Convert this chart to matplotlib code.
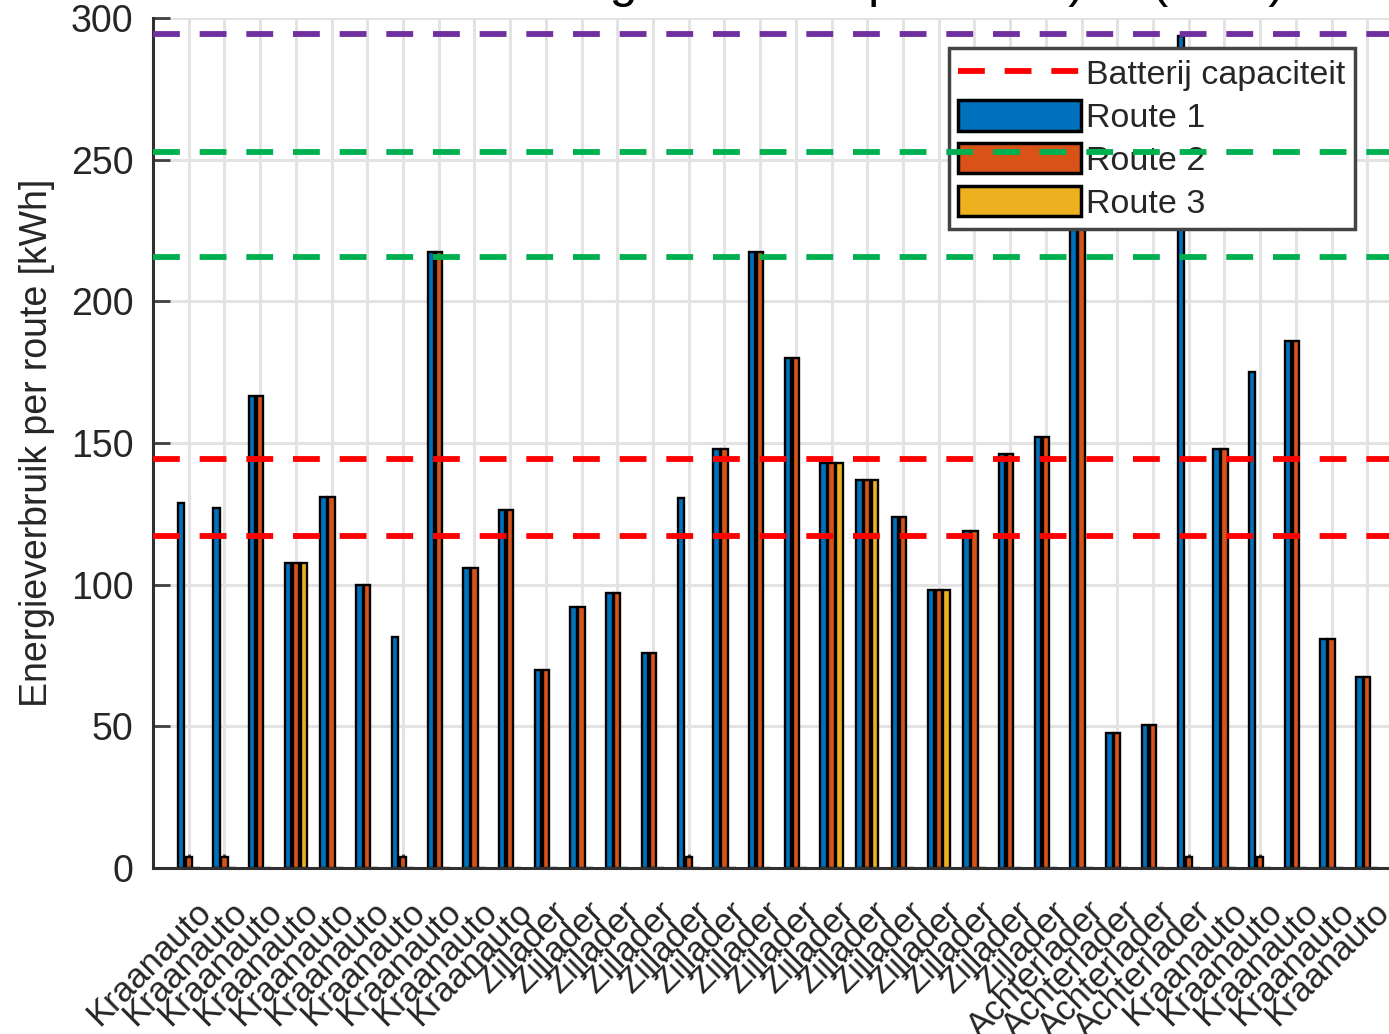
import matplotlib
matplotlib.use('Agg')
import matplotlib.pyplot as plt
import numpy as np
from matplotlib.transforms import ScaledTranslation
from matplotlib.patches import Patch
from matplotlib.lines import Line2D

# ---------------- data ----------------
categories = (['Kraanauto'] * 10 + ['Zijlader'] * 15 +
              ['Achterlader'] * 4 + ['Kraanauto'] * 5)

route1 = [128.8, 127.0, 166.5, 107.5, 131.0, 100.0, 81.5, 217.5, 106.0, 126.5,
          70.0, 92.0, 97.0, 76.0, 130.5, 148.0, 217.5, 180.0, 143.0, 137.0,
          124.0, 98.0, 119.0, 146.0, 152.0,
          260.0, 47.5, 50.5, 293.5,
          148.0, 175.0, 186.0, 81.0, 67.5]
route2 = [4.0, 4.0, 166.5, 107.5, 131.0, 100.0, 4.0, 217.5, 106.0, 126.5,
          70.0, 92.0, 97.0, 76.0, 4.0, 148.0, 217.5, 180.0, 143.0, 137.0,
          124.0, 98.0, 119.0, 146.0, 152.0,
          260.0, 47.5, 50.5, 4.0,
          148.0, 4.0, 186.0, 81.0, 67.5]
route3 = [0, 0, 0, 107.5, 0, 0, 0, 0, 0, 0,
          0, 0, 0, 0, 0, 0, 0, 0, 143.0, 137.0,
          0, 98.0, 0, 0, 0,
          0, 0, 0, 0,
          0, 0, 0, 0, 0]

battery_red = [144.4, 117.2]
limits_green = [252.7, 215.7]
limit_purple = [294.3]

series_names = ['Route 1', 'Route 2', 'Route 3']
legend_line_label = 'Batterij capaciteit'
ylabel_text = 'Energieverbruik per route [kWh]'
title_text = 'Energieverbruik per route) in (kWh)'
yticks = [0, 50, 100, 150, 200, 250, 300]

# ---------------- style ----------------
FONT = ['Liberation Sans', 'DejaVu Sans']
plt.rcParams['font.family'] = FONT
colors = ['#0072BD', '#D95319', '#EDB120']
txtcol = '#262626'

fig = plt.figure(figsize=(13.89, 10.34), dpi=100)
ax = fig.add_axes([153 / 1389, 166 / 1034, 1250 / 1389, 850 / 1034])

x = np.arange(1, len(categories) + 1)
bw = 0.178
offs = [-0.222, 0.0, 0.222]
for vals, c, o, name in zip([route1, route2, route3], colors, offs, series_names):
    ax.bar(x + o, vals, width=bw, color=c, edgecolor='black', linewidth=1.7,
           zorder=2, label=name)

dash = (0, (4.6, 3.4))
for v in battery_red:
    ax.axhline(v, color='#ff0000', lw=4.2, linestyle=dash, zorder=6)
for v in limits_green:
    ax.axhline(v, color='#00b050', lw=4.2, linestyle=dash, zorder=6)
for v in limit_purple:
    ax.axhline(v, color='#7030a0', lw=4.2, linestyle=dash, zorder=6)

ax.set_xlim(0, len(categories) + 1)
ax.set_ylim(0, 300)
ax.set_yticks(yticks)
ax.set_xticks(x)
ax.set_xticklabels(categories, rotation=45, ha='right', va='center',
                   rotation_mode='anchor', fontsize=25, color=txtcol)
ax.tick_params(axis='x', direction='in', length=10, width=2, pad=28,
               color='#404040')
ax.tick_params(axis='y', direction='in', length=12, width=2, pad=14,
               labelsize=27, labelcolor=txtcol, color='#404040')
off = ScaledTranslation(0.17, 0, fig.dpi_scale_trans)
for lbl in ax.get_xticklabels():
    lbl.set_transform(lbl.get_transform() + off)

ax.grid(True, color='#e3e3e3', lw=2.2, zorder=0)
ax.set_axisbelow(True)
for s in ['top', 'right']:
    ax.spines[s].set_visible(False)
for s in ['left', 'bottom']:
    ax.spines[s].set_color('#303030')
    ax.spines[s].set_linewidth(2.2)

ax.set_ylabel(ylabel_text, fontsize=27, color=txtcol)
ax.yaxis.set_label_coords(-0.078, 0.5)

handles = [Line2D([0], [0], color='#ff0000', lw=4.2, linestyle=dash)]
handles += [Patch(facecolor=c, edgecolor='black', linewidth=2.5) for c in colors]
leg = ax.legend(handles, [legend_line_label] + series_names,
                loc='upper right', bbox_to_anchor=(0.9616, 0.9647),
                borderaxespad=0, fontsize=24.5, frameon=True, fancybox=False,
                handlelength=3.6, handleheight=1.0, handletextpad=0.15,
                labelspacing=0.26, borderpad=0.28, framealpha=1)
leg.get_frame().set_edgecolor('#444444')
leg.get_frame().set_linewidth(2.5)
for t in leg.get_texts():
    t.set_color(txtcol)
leg.set_zorder(4)

fig.text(504 / 1389, 1 + 3 / 1034, title_text, fontsize=36, ha='left',
         va='baseline', color='black')

fig.savefig('out.png', dpi=100)
